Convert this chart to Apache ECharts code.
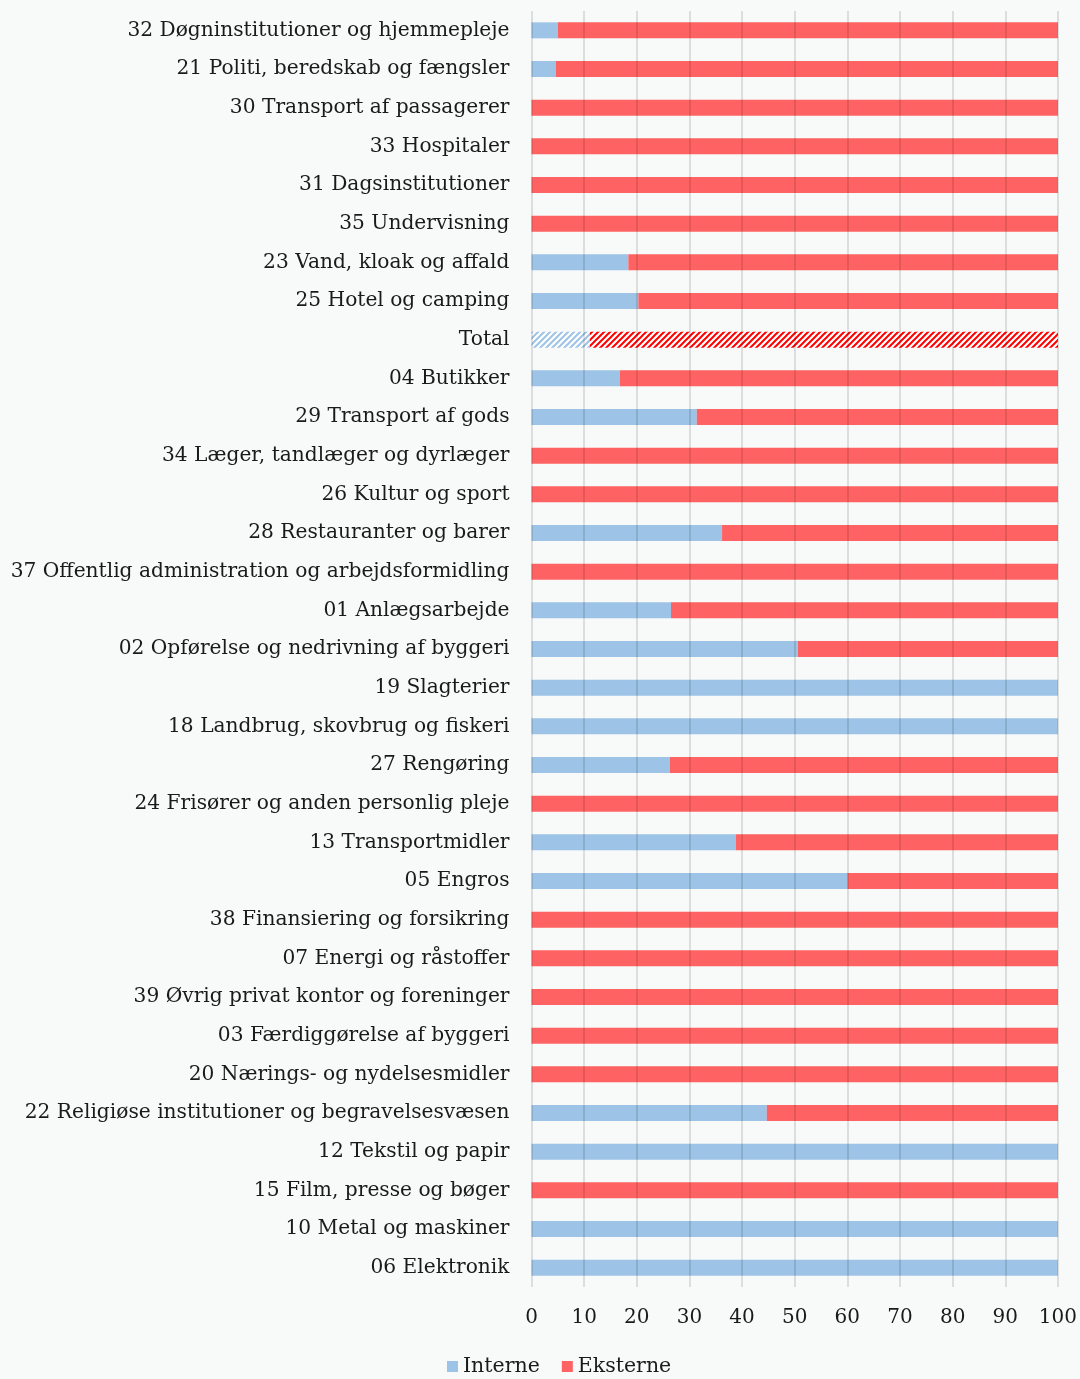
<!DOCTYPE html>
<html><head><meta charset="utf-8">
<script src="https://cdn.jsdelivr.net/npm/echarts@6/dist/echarts.min.js"></script>
<style>html,body{margin:0;padding:0;background:#F8F9F9}#c{width:1080px;height:1379px}</style>
</head><body><div id="c"></div>
<script>
const categories = [
"32 Døgninstitutioner og hjemmepleje","21 Politi, beredskab og fængsler","30 Transport af passagerer","33 Hospitaler","31 Dagsinstitutioner","35 Undervisning","23 Vand, kloak og affald","25 Hotel og camping","Total","04 Butikker","29 Transport af gods","34 Læger, tandlæger og dyrlæger","26 Kultur og sport","28 Restauranter og barer","37 Offentlig administration og arbejdsformidling","01 Anlægsarbejde","02 Opførelse og nedrivning af byggeri","19 Slagterier","18 Landbrug, skovbrug og fiskeri","27 Rengøring","24 Frisører og anden personlig pleje","13 Transportmidler","05 Engros","38 Finansiering og forsikring","07 Energi og råstoffer","39 Øvrig privat kontor og foreninger","03 Færdiggørelse af byggeri","20 Nærings- og nydelsesmidler","22 Religiøse institutioner og begravelsesvæsen","12 Tekstil og papir","15 Film, presse og bøger","10 Metal og maskiner","06 Elektronik"];
const interne = [5.0,4.6,0,0,0,0,18.4,20.3,11.1,16.8,31.4,0,0,36.2,0,26.5,50.6,100,100,26.3,0,38.8,60.0,0,0,0,0,0,44.7,100,0,100,100];
const eksterne = [95.0,95.4,100,100,100,100,81.6,79.7,88.9,83.2,68.6,100,100,63.8,100,73.5,49.4,0,0,73.7,100,61.2,40.0,100,100,100,100,100,55.3,0,100,0,0];
const xTicks = [0,10,20,30,40,50,60,70,80,90,100];
const seriesNames = ["Interne","Eksterne"];
const totalLabel = "Total";

const BLUE = '#9DC3E6', RED = '#FF6262';
function stripes(col){
  const c = document.createElement('canvas'); c.width = 6; c.height = 6;
  const g = c.getContext('2d');
  g.fillStyle = '#ffffff'; g.fillRect(0,0,6,6);
  g.strokeStyle = col; g.lineWidth = 2;
  g.beginPath();
  g.moveTo(-1,7); g.lineTo(7,-1);
  g.moveTo(-4,4); g.lineTo(4,-4);
  g.moveTo(2,10); g.lineTo(10,2);
  g.stroke();
  return {image: c, repeat: 'repeat'};
}
function mk(vals, col, hatchCol){
  return vals.map((v,i)=> categories[i]===totalLabel ? {value:v, itemStyle:{color:stripes(hatchCol)}} : v);
}
const font = "'DejaVu Serif', serif";
const chart = echarts.init(document.getElementById('c'), null, {renderer:'canvas'});
chart.setOption({
  backgroundColor:'#F8F9F9',
  animation:false,
  grid:{left:531.5, right:21.5, top:11, bottom:92, containLabel:false},
  legend:{data:seriesNames, bottom:-3, left:442, itemWidth:11, itemHeight:11, itemGap:22,
    icon:'rect', textStyle:{fontFamily:font, fontSize:20.5, color:'#1a1a1a'}},
  xAxis:{type:'value', min:0, max:100, interval:10, z:5,
    axisLine:{show:false}, axisTick:{show:false},
    axisLabel:{fontFamily:font, fontSize:20, color:'#1a1a1a', margin:21, formatter:v=>String(xTicks[Math.round(v/10)])},
    splitLine:{show:true, lineStyle:{color:'rgba(0,0,0,0.11)', width:2}}},
  yAxis:{type:'category', data:categories, inverse:true,
    axisLine:{show:false}, axisTick:{show:false},
    axisLabel:{fontFamily:font, fontSize:20.2, color:'#1a1a1a', margin:22}},
  series:[
    {name:seriesNames[0], type:'bar', stack:'s', barWidth:16, itemStyle:{color:BLUE}, data:mk(interne, BLUE, BLUE)},
    {name:seriesNames[1], type:'bar', stack:'s', barWidth:16, itemStyle:{color:RED}, data:mk(eksterne, RED, '#FF0000')}
  ]
});
</script></body></html>
